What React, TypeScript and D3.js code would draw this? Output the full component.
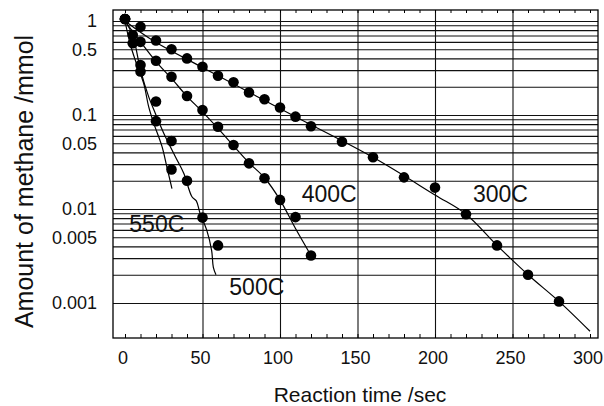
import React, { useEffect, useRef } from 'react';
import * as d3 from 'd3';

// tick labels
const xTicks = [0, 50, 100, 150, 200, 250, 300];
const yTicks = [1, 0.5, 0.1, 0.05, 0.01, 0.005, 0.001];
const yTickLabels = ['1', '0.5', '0.1', '0.05', '0.01', '0.005', '0.001'];

// measured points [time s, amount mmol]
const pts300 = [[0, 1.05], [10, 0.87], [20, 0.62], [30, 0.5], [40, 0.4], [50, 0.326], [60, 0.262], [70, 0.223], [80, 0.174], [90, 0.147], [100, 0.12], [110, 0.096], [120, 0.076], [140, 0.052], [160, 0.0355], [180, 0.0217], [200, 0.0169], [220, 0.0088], [240, 0.0041], [260, 0.002], [280, 0.00104]];
const pts400 = [[0, 1.05], [10, 0.6], [20, 0.378], [30, 0.255], [40, 0.159], [50, 0.113], [60, 0.075], [70, 0.048], [80, 0.0306], [90, 0.0212], [100, 0.0125], [110, 0.0082], [120, 0.0032]];
const pts500 = [[0, 1.05], [5, 0.71], [10, 0.34], [20, 0.139], [30, 0.0529], [40, 0.02], [50, 0.0081], [60, 0.0041]];
const pts550 = [[0, 1.05], [5, 0.58], [10, 0.29], [20, 0.086], [30, 0.0263]];

// drawn curves through the points
const fit300 = [[0, 1.0], [18, 0.62], [50, 0.32], [110, 0.096], [160, 0.0355], [200, 0.0141], [220, 0.0088], [240, 0.0041], [260, 0.002], [280, 0.00104], [300, 0.0005]];
const fit400 = [[0, 1.0], [10, 0.6], [20, 0.37], [30, 0.245], [40, 0.158], [50, 0.108], [60, 0.072], [70, 0.047], [80, 0.031], [90, 0.0215], [100, 0.0125], [110, 0.0062], [120, 0.0032]];
const fit500 = [[0, 1.0], [5, 0.7], [10, 0.3], [15.3, 0.156], [19.6, 0.104], [25, 0.064], [32.5, 0.036], [37.9, 0.024], [43.2, 0.0135], [46, 0.0122], [48.4, 0.009], [52.7, 0.006], [55.9, 0.0036], [57, 0.0024], [58.7, 0.002]];
const fit550 = [[0, 1.0], [3.2, 0.58], [6.6, 0.385], [12, 0.218], [15.3, 0.122], [18.5, 0.082], [23.9, 0.046], [27, 0.028], [30.3, 0.0165]];

const seriesNames = ['300C', '400C', '500C', '550C'];

const W = 604, H = 406;
const frame = { left: 113, right: 598, top: 10, bottom: 338 };

export default function App() {
  const ref = useRef<SVGSVGElement>(null);

  useEffect(() => {
    const svg = d3.select(ref.current);
    svg.selectAll('*').remove();

    const x = d3.scaleLinear().domain([0, 300]).range([125, 590]);
    const y = d3.scaleLog().domain([0.001, 1]).range([303, 21]);

    svg.append('rect').attr('width', W).attr('height', H).attr('fill', '#fff');

    // horizontal grid (log minor lines)
    const gridY: number[] = [1];
    [-3, -2, -1].forEach(e => d3.range(1, 10).forEach(k => gridY.push(k * Math.pow(10, e))));
    const gy = svg.append('g')
      .attr('transform', 'translate(' + frame.left + ',0)')
      .call(d3.axisLeft(y).tickValues(gridY).tickFormat(() => '').tickSize(-(frame.right - frame.left)));
    gy.select('.domain').remove();
    gy.selectAll('line').attr('stroke', '#111').attr('stroke-width', 1.1);

    // vertical grid
    const gx = svg.append('g')
      .attr('transform', 'translate(0,' + frame.bottom + ')')
      .call(d3.axisBottom(x).tickValues([50, 100, 150, 200, 250]).tickFormat(() => '').tickSize(-(frame.bottom - frame.top)));
    gx.select('.domain').remove();
    gx.selectAll('line').attr('stroke', '#111').attr('stroke-width', 1.1);

    // minor ticks bottom and top
    const minor = d3.range(0, 301, 10);
    const tb = svg.append('g')
      .attr('transform', 'translate(0,' + frame.bottom + ')')
      .call(d3.axisBottom(x).tickValues(minor).tickFormat(() => '').tickSize(-4));
    tb.select('.domain').remove();
    const tt = svg.append('g')
      .attr('transform', 'translate(0,' + frame.top + ')')
      .call(d3.axisTop(x).tickValues(minor).tickFormat(() => '').tickSize(-3));
    tt.select('.domain').remove();

    // frame
    svg.append('rect')
      .attr('x', frame.left).attr('y', frame.top)
      .attr('width', frame.right - frame.left).attr('height', frame.bottom - frame.top)
      .attr('fill', 'none').attr('stroke', '#000').attr('stroke-width', 1.3);

    // tick labels
    const xa = svg.append('g')
      .attr('transform', 'translate(0,' + frame.bottom + ')')
      .call(d3.axisBottom(x).tickValues(xTicks).tickSize(0).tickPadding(13));
    xa.select('.domain').remove();
    xa.selectAll('text')
      .attr('dx', -2.5)
      .attr('font-family', 'Liberation Sans, Arial, sans-serif').attr('font-size', 18).attr('fill', '#111');

    const ya = svg.append('g')
      .attr('transform', 'translate(' + frame.left + ',0)')
      .call(d3.axisLeft(y).tickValues(yTicks).tickFormat((d, i) => yTickLabels[i]).tickSize(0).tickPadding(16));
    ya.select('.domain').remove();
    ya.selectAll('text').attr('font-family', 'Liberation Sans, Arial, sans-serif').attr('font-size', 18).attr('fill', '#111');

    // curves and points
    const line = d3.line<number[]>().x(d => x(d[0])).y(d => y(d[1])).curve(d3.curveCatmullRom);
    const fits = [fit300, fit400, fit500, fit550];
    const pts = [pts300, pts400, pts500, pts550];
    fits.forEach(f => {
      svg.append('path').attr('d', line(f)).attr('fill', 'none').attr('stroke', '#000').attr('stroke-width', 1.2);
    });
    pts.forEach(p => {
      svg.append('g').selectAll('circle').data(p).enter().append('circle')
        .attr('cx', d => x(d[0])).attr('cy', d => y(d[1])).attr('r', 5.3).attr('fill', '#000');
    });

    // series labels
    const labelAt = [[224.5, 0.0119], [114, 0.012], [67.3, 0.00121], [2.8, 0.00565]];
    seriesNames.forEach((name, i) => {
      svg.append('text')
        .attr('x', x(labelAt[i][0])).attr('y', y(labelAt[i][1]))
        .attr('font-family', 'Liberation Sans, Arial, sans-serif').attr('font-size', 23)
        .attr('fill', '#111')
        .text(name);
    });

    // axis titles
    svg.append('text')
      .attr('x', 360).attr('y', 402)
      .attr('text-anchor', 'middle')
      .attr('font-family', 'Liberation Sans, Arial, sans-serif').attr('font-size', 21)
      .attr('fill', '#111')
      .text('Reaction time /sec');

    svg.append('text')
      .attr('transform', 'translate(33,181.5) rotate(-90)')
      .attr('text-anchor', 'middle')
      .attr('font-family', 'Liberation Sans, Arial, sans-serif').attr('font-size', 25)
      .attr('fill', '#111')
      .text('Amount of methane /mmol');
  }, []);

  return (
    <svg ref={ref} width={W} height={H} style={{ position: 'absolute', left: 0, top: 0 }} />
  );
}
